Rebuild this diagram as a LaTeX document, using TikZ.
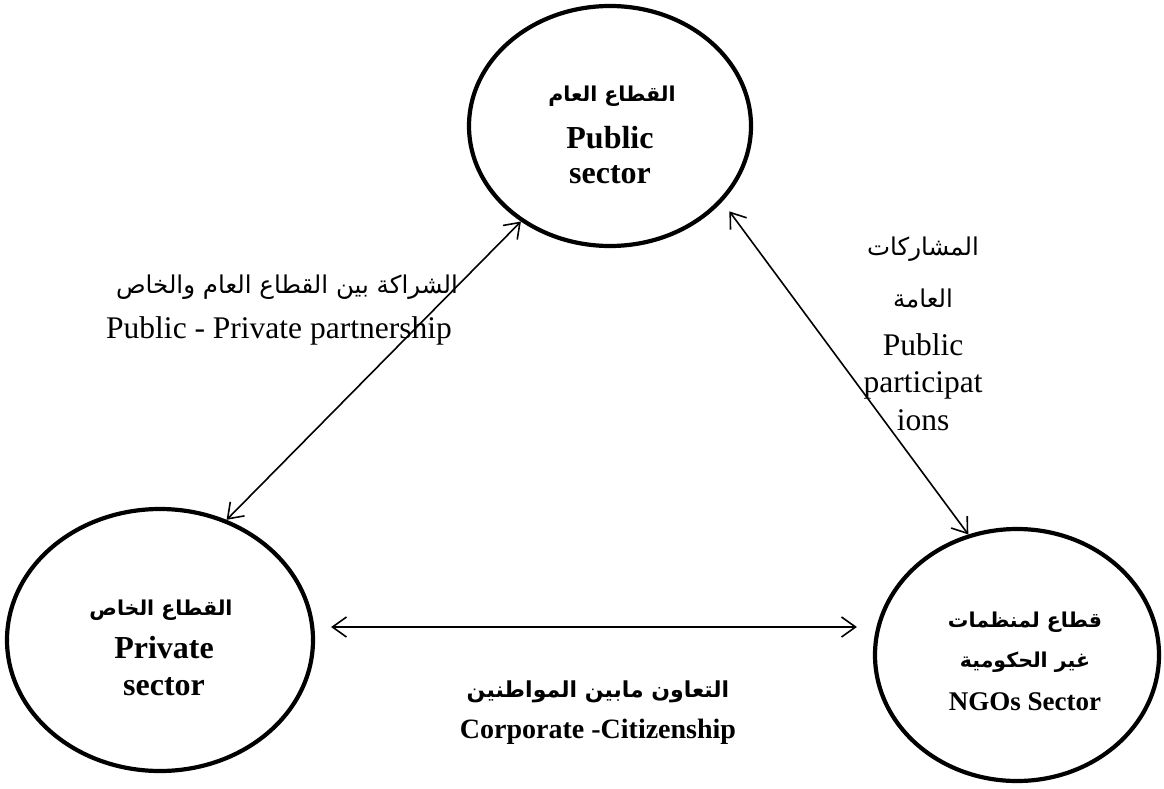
\documentclass[tikz,border=0pt]{standalone}
\usepackage{fontspec}
\setmainfont{Liberation Serif}
\newfontfamily\arabicfont[Script=Arabic]{DejaVu Sans}
\TeXXeTstate=1
\usetikzlibrary{shapes.geometric,arrows.meta}
\begin{document}
\begin{tikzpicture}[x=1pt,y=1pt,
  sector/.style={draw, ellipse, line width=4.2pt, inner sep=0pt},
  biarrow/.style={line width=1.6pt, {Straight Barb[length=14pt,width=20pt]}-{Straight Barb[length=14pt,width=20pt]}},
  txt/.style={anchor=base, inner sep=0pt},
  bname/.style={txt, font=\fontsize{32}{38}\selectfont\bfseries},
  bnamesm/.style={txt, font=\fontsize{27}{32}\selectfont\bfseries},
  lbl/.style={txt, font=\fontsize{31.5}{38}\selectfont},
  arb/.style={txt, font=\fontsize{20.5}{26}\selectfont\arabicfont\bfseries},
  arr/.style={txt, font=\fontsize{24.5}{28}\selectfont\arabicfont}
]
\useasboundingbox (0,0) rectangle (1164,-789);

% sectors
\node[sector, minimum width=282pt, minimum height=240pt] (pub) at (610,-126) {};
\node[sector, minimum width=306pt, minimum height=262pt] (priv) at (160,-640) {};
\node[sector, minimum width=284pt, minimum height=252pt] (ngo) at (1017,-655) {};

% texts in sectors
\node[arb] (pubar) at (612,-102) {\beginR القطاع العام\endR};
\node[bname] (pub1) at (610,-148) {Public};
\node[bname] (pub2) at (610,-183) {sector};

\node[arb] (privar) at (161,-615) {\beginR القطاع الخاص\endR};
\node[bname] (priv1) at (164,-658) {Private};
\node[bname] (priv2) at (164,-695) {sector};

\node[arb] (ngoar1) at (1025,-627) {\beginR قطاع لمنظمات\endR};
\node[arb] (ngoar2) at (1025,-667) {\beginR غير الحكومية\endR};
\node[bnamesm] (ngo1) at (1025,-710) {NGOs Sector};

% connectors
\draw[biarrow] (pub.227.8) -- (priv.61.6);
\draw[biarrow, shorten <=12pt] (pub.-34.3) -- (ngo.112.6);
\draw[biarrow] ([shift={(16pt,13pt)}]priv.east) -- ([shift={(-16pt,28pt)}]ngo.west);

% connector labels
\node[arr] (pplar) at (287,-293) {\beginR الشراكة بين القطاع العام والخاص\endR};
\node[lbl] (ppl) at (279,-338) {Public - Private partnership};

\node[arr] (ppar1) at (923,-255) {\beginR المشاركات\endR};
\node[arr] (ppar2) at (923,-307) {\beginR العامة\endR};
\node[lbl] (pp1) at (923,-355) {Public};
\node[lbl] (pp2) at (923,-392) {participat};
\node[lbl] (pp3) at (923,-430) {ions};

\node[arb, font=\fontsize{22}{26}\selectfont\arabicfont\bfseries] (ccar) at (598,-697) {\beginR التعاون مابين المواطنين\endR};
\node[bnamesm, font=\fontsize{28}{32}\selectfont\bfseries] (cc) at (598,-738) {Corporate -Citizenship};
\end{tikzpicture}
\end{document}
